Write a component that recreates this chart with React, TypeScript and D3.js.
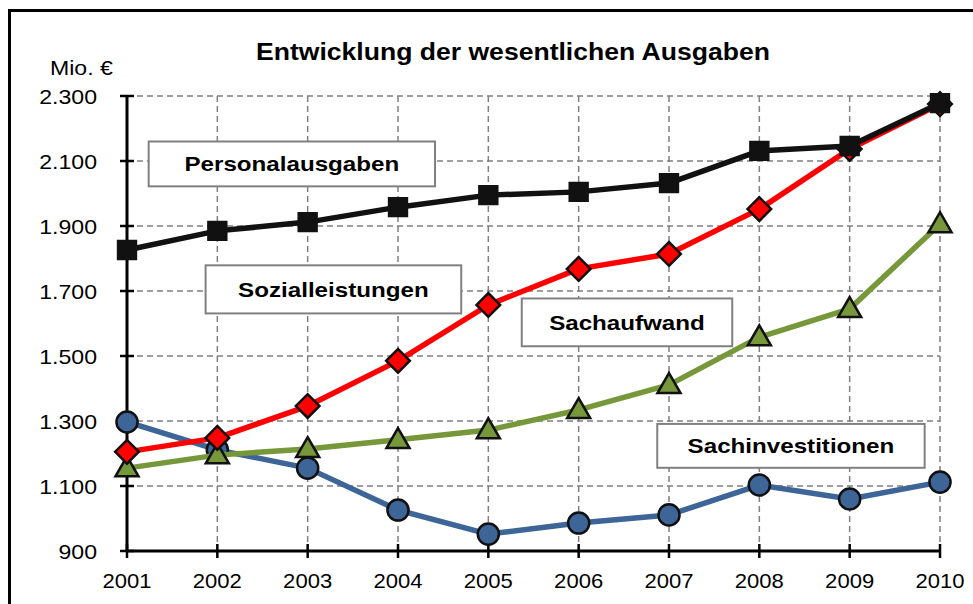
import * as d3 from "d3";
import { useEffect, useRef } from "react";

const years = [2001, 2002, 2003, 2004, 2005, 2006, 2007, 2008, 2009, 2010];
const personal = [1826, 1885, 1912, 1958, 1995, 2005, 2032, 2131, 2146, 2278];
const sozial = [1205, 1248, 1346, 1485, 1657, 1768, 1814, 1952, 2137, 2275];
const sachaufwand = [1155, 1195, 1214, 1242, 1272, 1334, 1411, 1558, 1645, 1906];
const sachinvest = [1297, 1211, 1155, 1026, 952, 986, 1011, 1103, 1060, 1112];
const yTicks = [900, 1100, 1300, 1500, 1700, 1900, 2100, 2300];

const labels = [
  { text: "Personalausgaben", x0: 2001.24, x1: 2004.41, y0: 2160, y1: 2022 },
  { text: "Sozialleistungen", x0: 2001.87, x1: 2004.7, y0: 1779, y1: 1631 },
  { text: "Sachaufwand", x0: 2005.37, x1: 2007.7, y0: 1677, y1: 1530 },
  { text: "Sachinvestitionen", x0: 2006.87, x1: 2009.83, y0: 1291, y1: 1156 },
];

// the original's text is a bit wider than Liberation Sans
function stretch(sel: d3.Selection<any, any, any, any>, k: number) {
  sel.each(function () {
    const t = this as SVGTextElement;
    t.setAttribute("textLength", String(t.getComputedTextLength() * k));
    t.setAttribute("lengthAdjust", "spacingAndGlyphs");
  });
}

export default function App() {
  const ref = useRef<SVGSVGElement>(null);

  useEffect(() => {
    const width = 973;
    const height = 604;
    const svg = d3.select(ref.current).attr("width", width).attr("height", height);
    svg.selectAll("*").remove();

    const font = "'Liberation Sans', Arial, sans-serif";

    const x = d3.scaleLinear().domain([2001, 2010]).range([127, 940]);
    const y = d3.scaleLinear().domain([900, 2300]).range([551, 96]);

    // frame
    svg.append("rect")
      .attr("x", 9.5).attr("y", 10.5)
      .attr("width", 1000).attr("height", 700)
      .attr("fill", "none").attr("stroke", "#000").attr("stroke-width", 3);

    // title
    const title = svg.append("text")
      .attr("x", 513).attr("y", 60)
      .attr("text-anchor", "middle")
      .attr("font-family", font).attr("font-weight", "bold").attr("font-size", 23.5)
      .text("Entwicklung der wesentlichen Ausgaben");
    stretch(title, 1.13);

    const unit = svg.append("text")
      .attr("x", 50).attr("y", 75)
      .attr("font-family", font).attr("font-size", 21)
      .text("Mio. €");
    stretch(unit, 1.1);

    // grid
    const grid = svg.append("g")
      .attr("stroke", "#808080").attr("stroke-width", 1.5).attr("stroke-dasharray", "6,4");
    grid.selectAll(".hg")
      .data(yTicks.slice(1))
      .join("line")
      .attr("x1", x(2001)).attr("x2", x(2010))
      .attr("y1", d => y(d)).attr("y2", d => y(d));
    grid.selectAll(".vg")
      .data(years.slice(1))
      .join("line")
      .attr("x1", d => x(d)).attr("x2", d => x(d))
      .attr("y1", y(2300)).attr("y2", y(900));

    // y axis: ticks cross the axis line
    const yAxis = svg.append("g");
    yAxis.selectAll("line.tk")
      .data(yTicks)
      .join("line")
      .attr("x1", x(2001) - 7).attr("x2", x(2001) + 7)
      .attr("y1", d => y(d)).attr("y2", d => y(d))
      .attr("stroke", "#000").attr("stroke-width", 2.5);
    const yLab = yAxis.selectAll("text")
      .data(yTicks)
      .join("text")
      .attr("x", x(2001) - 30)
      .attr("y", d => y(d))
      .attr("dy", "0.36em")
      .attr("text-anchor", "end")
      .attr("font-family", font).attr("font-size", 21).attr("fill", "#000")
      .text(d => d3.format(",")(d).replace(",", "."));
    stretch(yLab, 1.1);
    yAxis.append("line")
      .attr("x1", x(2001)).attr("x2", x(2001)).attr("y1", y(2300)).attr("y2", y(900))
      .attr("stroke", "#000").attr("stroke-width", 3);

    // x axis
    const xAxis = svg.append("g");
    xAxis.selectAll("line.tk")
      .data(years)
      .join("line")
      .attr("x1", d => x(d)).attr("x2", d => x(d))
      .attr("y1", y(900) - 7).attr("y2", y(900) + 7)
      .attr("stroke", "#000").attr("stroke-width", 2.5);
    const xLab = xAxis.selectAll("text")
      .data(years)
      .join("text")
      .attr("x", d => x(d))
      .attr("y", y(900) + 37)
      .attr("text-anchor", "middle")
      .attr("font-family", font).attr("font-size", 21).attr("fill", "#000")
      .text(d => String(d));
    stretch(xLab, 1.05);
    xAxis.append("line")
      .attr("x1", x(2001)).attr("x2", x(2010)).attr("y1", y(900)).attr("y2", y(900))
      .attr("stroke", "#000").attr("stroke-width", 3);

    // label boxes
    const lb = svg.append("g").selectAll("g").data(labels).join("g");
    lb.append("rect")
      .attr("x", d => x(d.x0)).attr("y", d => y(d.y0))
      .attr("width", d => x(d.x1) - x(d.x0)).attr("height", d => y(d.y1) - y(d.y0))
      .attr("fill", "#fff").attr("stroke", "#808080").attr("stroke-width", 2);
    const lt = lb.append("text")
      .attr("x", d => (x(d.x0) + x(d.x1)) / 2)
      .attr("y", d => (y(d.y0) + y(d.y1)) / 2)
      .attr("dy", "0.36em")
      .attr("text-anchor", "middle")
      .attr("font-family", font).attr("font-weight", "bold").attr("font-size", 21)
      .text(d => d.text);
    stretch(lt, 1.15);

    const line = d3.line<number>().x((_, i) => x(years[i])).y(d => y(d));

    const series = [
      { values: sachinvest, color: "#3d6598", shape: "circle" },
      { values: sachaufwand, color: "#76973a", shape: "triangle" },
      { values: sozial, color: "#ff0000", shape: "diamond" },
      { values: personal, color: "#111111", shape: "square" },
    ];

    const symbols: Record<string, d3.SymbolType> = {
      circle: d3.symbolCircle,
      triangle: d3.symbolTriangle,
      diamond: d3.symbolSquare,
      square: d3.symbolSquare,
    };
    const sizes: Record<string, number> = { circle: 350, triangle: 230, diamond: 280, square: 320 };

    series.forEach(s => {
      svg.append("path")
        .attr("d", line(s.values))
        .attr("fill", "none").attr("stroke", s.color).attr("stroke-width", 5.5)
        .attr("stroke-linejoin", "round");
      svg.append("g").selectAll("path")
        .data(s.values)
        .join("path")
        .attr("transform", (d, i) =>
          `translate(${x(years[i])},${y(d) + (s.shape === "triangle" ? 1.5 : 0)})` +
          (s.shape === "diamond" ? " rotate(45)" : ""))
        .attr("d", d3.symbol(symbols[s.shape], sizes[s.shape])())
        .attr("fill", s.color)
        .attr("stroke", "#111").attr("stroke-width", 2.5);
    });
  }, []);

  return (
    <svg ref={ref} style={{ position: "absolute", left: 0, top: 0, background: "#fff" }}></svg>
  );
}
